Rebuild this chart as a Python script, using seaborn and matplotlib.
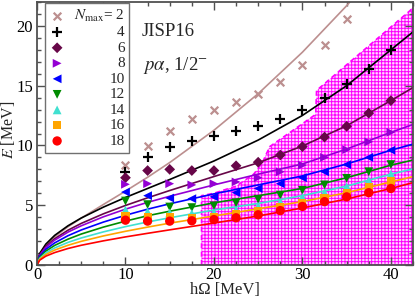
import numpy as np
import pandas as pd
import matplotlib
matplotlib.use("Agg")
import matplotlib.pyplot as plt
from matplotlib.ticker import MultipleLocator
import seaborn as sns

# ---- data ----
hw = [10, 12.5, 15, 17.5, 20, 22.5, 25, 27.5, 30, 32.5, 35, 37.5, 40]
e_n2 = [8.4, 9.95, 11.25, 12.2, 13.0, 13.6, 14.3, 15.3, 16.7, 18.4, 20.6, np.nan, np.nan]
e_n4 = [7.8, 9.0, 9.9, 10.4, 10.8, 11.2, 11.6, 12.2, 13.0, 13.95, 15.1, 16.4, 18.0]
e_n6 = [7.3, 7.9, 8.0, 7.9, 7.9, 8.3, 8.6, 9.2, 9.9, 10.7, 11.6, 12.7, 13.75]
e_n8 = [6.75, 6.8, 6.8, 6.7, 6.8, 6.95, 7.3, 7.8, 8.35, 9.0, 9.65, 10.3, 11.1]
e_n10 = [6.1, 5.8, 5.6, 5.55, 5.7, 6.05, 6.4, 6.8, 7.3, 7.8, 8.4, 9.0, 9.6]
e_n12 = [5.35, 5.05, 4.85, 4.8, 4.95, 5.2, 5.5, 5.85, 6.25, 6.7, 7.25, 7.8, 8.4]
e_n14 = [4.6, 4.45, 4.35, 4.3, 4.4, 4.6, 4.9, 5.25, 5.65, 6.05, 6.55, 7.05, 7.6]
e_n16 = [4.1, 4.05, 3.97, 3.95, 4.05, 4.25, 4.5, 4.85, 5.2, 5.6, 6.05, 6.5, 7.0]
e_n18 = [3.75, 3.67, 3.67, 3.7, 3.8, 3.95, 4.2, 4.55, 4.9, 5.3, 5.7, 6.05, 6.4]

curve_hw = [0, 0.3, 1, 2, 3.5, 5, 7.5, 10, 12.5, 15, 20, 25, 30, 35, 40, 42.5]
fit_n2 = [0, 0.90, 1.66, 2.37, 3.20, 3.92, 5.06, 6.18, 7.34, 8.57, 11.27, 14.33, 17.80, 21.69, 26.0, 28.4]
fit_n4 = [0, 0.96, 1.75, 2.48, 3.28, 3.93, 4.84, 5.65, 6.40, 7.15, 8.70, 10.45, 12.51, 15.00, 18.00, 19.5]
fit_n6 = [0, 0.85, 1.56, 2.20, 2.91, 3.48, 4.28, 4.98, 5.62, 6.23, 7.40, 8.55, 9.95, 11.65, 13.75, 14.84]
fit_n8 = [0, 0.80, 1.47, 2.08, 2.75, 3.28, 4.03, 4.67, 5.24, 5.75, 6.70, 7.60, 8.45, 9.70, 11.10, 11.75]
fit_n10 = [0, 0.72, 1.31, 1.85, 2.45, 2.93, 3.59, 4.16, 4.67, 5.12, 5.95, 6.70, 7.45, 8.45, 9.60, 10.11]
fit_n12 = [0, 0.63, 1.16, 1.64, 2.16, 2.59, 3.17, 3.67, 4.12, 4.50, 5.20, 5.80, 6.40, 7.30, 8.35, 8.78]
fit_n14 = [0, 0.55, 1.01, 1.43, 1.89, 2.26, 2.77, 3.21, 3.60, 3.95, 4.60, 5.15, 5.80, 6.60, 7.60, 8.04]
fit_n16 = [0, 0.48, 0.88, 1.25, 1.65, 1.98, 2.43, 2.82, 3.17, 3.50, 4.10, 4.70, 5.30, 6.05, 6.95, 7.39]
fit_n18 = [0, 0.40, 0.74, 1.04, 1.38, 1.65, 2.02, 2.35, 2.65, 2.94, 3.51, 4.10, 4.77, 5.52, 6.40, 6.89]

region_hw = [18.6, 18.6, 20.0, 22.5, 24.5, 25.5, 26.3, 31.5, 31.6, 42.2, 42.5, 42.5]
region_e = [0.0, 5.8, 6.0, 6.6, 7.6, 8.6, 9.9, 12.6, 14.6, 21.3, 21.6, 0.0]

nmax_labels = ["$N_{\\rm max}$= 2", "4", "6", "8", "10", "12", "14", "16", "18"]
colors = ["#BC8F8F", "#000000", "#670748", "#9400D3", "#0000FF",
          "#008B00", "#40E0D0", "#FFA500", "#FF0000"]
markers = ["x", "+", "D", ">", "<", "v", "^", "s", "o"]
sizes = [30, 55, 30, 40, 40, 40, 40, 34, 45]

points = [e_n2, e_n4, e_n6, e_n8, e_n10, e_n12, e_n14, e_n16, e_n18]
fits = [fit_n2, fit_n4, fit_n6, fit_n8, fit_n10, fit_n12, fit_n14, fit_n16, fit_n18]

sns.set_theme(style="ticks")
plt.rcParams.update({
    "font.family": ["Liberation Serif", "DejaVu Serif"],
    "mathtext.fontset": "stix",
    "hatch.linewidth": 0.7,
    "axes.edgecolor": "#505050",
    "xtick.color": "#505050",
    "ytick.color": "#505050",
    "xtick.labelcolor": "black",
    "ytick.labelcolor": "black",
})

fig = plt.figure(figsize=(4.15, 2.98), dpi=100)
ax = fig.add_axes([37 / 415, 1 - 265 / 298, 376 / 415, 263 / 298])

# shaded region
ax.fill(region_hw, region_e, facecolor="#ffd6ff", edgecolor="#ff00ff",
        hatch="+++++", linestyle=(0, (3, 2)), linewidth=1.2, zorder=0.5)

handles = []
for lab, col, mk, sz, pts, fit in zip(nmax_labels, colors, markers, sizes, points, fits):
    sns.lineplot(x=curve_hw, y=fit, color=col, linewidth=1.2, ax=ax,
                 zorder=2, sort=False)
    df = pd.DataFrame({"hw": hw, "E": pts}).dropna()
    if mk in ("x", "+"):
        h = ax.scatter([], [], marker=mk, color=col, s=sz, linewidths=1.6)
        sns.scatterplot(data=df, x="hw", y="E", marker=mk, color=col, s=sz,
                        linewidth=1.6, ax=ax, zorder=3)
    else:
        h = ax.scatter([], [], marker=mk, color=col, s=sz, edgecolors="none")
        sns.scatterplot(data=df, x="hw", y="E", marker=mk, color=col, s=sz,
                        edgecolor="none", linewidth=0, ax=ax, zorder=3)
    handles.append(h)

ax.set_xlim(0, 42.5)
ax.set_ylim(0, 22)
ax.xaxis.set_major_locator(MultipleLocator(10))
ax.xaxis.set_minor_locator(MultipleLocator(2.5))
ax.yaxis.set_major_locator(MultipleLocator(5))
ax.yaxis.set_minor_locator(MultipleLocator(1))
ax.tick_params(which="both", direction="in", top=True, right=True,
               labelsize=12, width=1.0)
ax.tick_params(which="major", length=5.5)
ax.tick_params(axis="x", which="major", pad=1.5)
ax.tick_params(axis="y", which="major", pad=3.0)
ax.tick_params(which="minor", length=3)
for sp in ax.spines.values():
    sp.set_linewidth(1.3)

ax.set_xlabel("hΩ [MeV]", fontsize=12, va="center")
ax.xaxis.set_label_coords(0.5, -0.094)
ax.set_ylabel("$E$ [MeV]", fontsize=11.5, va="center")
ax.yaxis.set_label_coords(-0.0775, 0.513)

ax.text(0.278, 0.886, "JISP16", transform=ax.transAxes, fontsize=13.5,
        va="center", ha="left")
ax.text(0.282, 0.760, "$p\\alpha$, 1/2$^{-}$", transform=ax.transAxes,
        fontsize=13.5, va="center", ha="left")

leg = ax.legend(handles, nmax_labels, loc="upper left",
                bbox_to_anchor=(0.021, 0.996), frameon=True, fancybox=False,
                edgecolor="#707070", framealpha=1, fontsize=11,
                handlelength=1.0, handletextpad=0.6, labelspacing=0.12,
                borderpad=0.3, borderaxespad=0)
leg.get_frame().set_linewidth(1.0)
fig.canvas.draw()
renderer = fig.canvas.get_renderer()
widths = [t.get_window_extent(renderer).width for t in leg.get_texts()]
wmax = max(widths)
for t, w in zip(leg.get_texts(), widths):
    t.set_position((wmax - w, 0))

fig.savefig("out.png", dpi=100)
